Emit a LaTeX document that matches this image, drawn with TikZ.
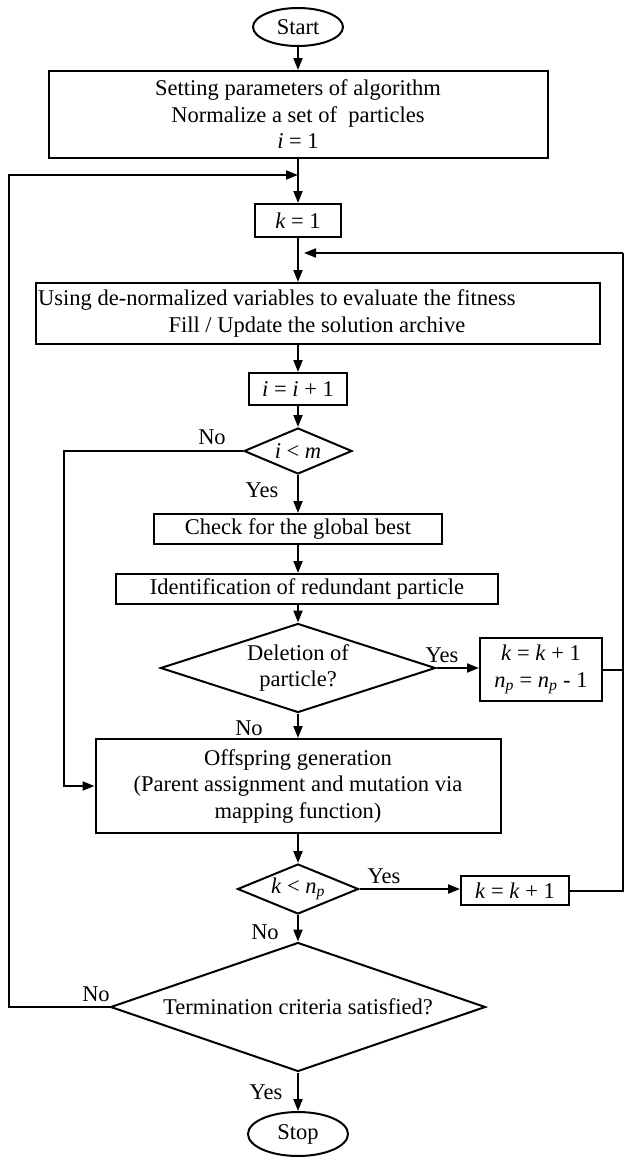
\documentclass[tikz,border=0pt]{standalone}
\usepackage{fontspec}
\setmainfont{Liberation Serif}
\usetikzlibrary{shapes.geometric,arrows.meta}
\newcommand\vi[1]{\textit{#1}}
\begin{document}
\begin{tikzpicture}[x=1pt,y=-1pt,
  every node/.style={font=\fontsize{22.5}{26.5}\selectfont},
  line/.style={line width=2pt},
  arr/.style={line width=2pt,-{Triangle[length=12pt,width=9pt]}},
  box/.style={draw,line width=2pt,rectangle,inner sep=0pt,align=center},
  oval/.style={draw,line width=2pt,ellipse,inner sep=0pt},
  dia/.style={draw,line width=2pt,diamond,inner sep=0pt,align=center},
  lbl/.style={inner sep=0pt}]
\useasboundingbox (0,0) rectangle (625,1157);
% nodes
\node[oval,minimum width=90pt,minimum height=38pt] (start) at (298,27) {Start};
\node[box,minimum width=499pt,minimum height=87pt] (b1) at (298,114.5)
  {Setting parameters of algorithm\\Normalize a set of\ \ particles\\\vi{i} = 1};
\node[box,minimum width=86pt,minimum height=33pt] (k1) at (298,220.5) {\vi{k} = 1};
\node[box,minimum width=564pt,minimum height=61pt] (use) at (318,313.5) {};
\node[lbl,anchor=west] (use1) at (38,300) {Using de-normalized variables to evaluate the fitness};
\node[lbl] (use2) at (317,327) {Fill / Update the solution archive};
\node[box,minimum width=98pt,minimum height=32pt] (ii) at (298,389) {\vi{i} = \vi{i} + 1};
\node[dia,shape aspect=2.35,minimum width=108pt,minimum height=46pt] (dm) at (298,451) {\vi{i} {\textless} \vi{m}};
\node[box,minimum width=288pt,minimum height=30pt] (chk) at (298,529) {Check for the global best};
\node[box,minimum width=382pt,minimum height=30pt] (idf) at (307,589) {Identification of redundant particle};
\node[dia,shape aspect=3.09,minimum width=275pt,minimum height=89pt] (del) at (298,668) {Deletion of\\particle?};
\node[box,minimum width=122pt,minimum height=63pt] (kn) at (541,669.5)
  {\vi{k} = \vi{k} + 1\\\vi{n}\textsubscript{\vi{p}} = \vi{n}\textsubscript{\vi{p}} - 1};
\node[box,minimum width=405pt,minimum height=94pt] (off) at (298,786)
  {Offspring generation\\(Parent assignment and mutation via\\mapping function)};
\node[dia,shape aspect=2.42,minimum width=121pt,minimum height=50pt] (kd) at (298,889) {\vi{k} {\textless} \vi{n}\textsubscript{\vi{p}}};
\node[box,minimum width=108pt,minimum height=29pt] (kk) at (515,890.5) {\raisebox{-3pt}{\vi{k} = \vi{k} + 1}};
\node[dia,shape aspect=2.9,minimum width=375pt,minimum height=129pt] (term) at (298,1007) {Termination criteria satisfied?};
\node[oval,minimum width=100pt,minimum height=44pt] (stop) at (298,1134) {Stop};
% coordinates
\coordinate (loopin) at (298,175);
\coordinate (retin) at (304,253);
\coordinate (rc) at (623,253);
\coordinate (lx) at (9,175);
\coordinate (nx) at (64,451);
% connectors
\draw[arr] (start) -- (b1);
\draw[line] (b1.south) -- (loopin);
\draw[arr] (loopin) -- (k1.north);
\draw[arr] (term.west) -- (lx |- term.west) -- (lx) -- (loopin);
\draw[arr] (k1.south) -- (k1.south |- use.north);
\draw[arr] (rc) -- (retin);
\draw[line] (kn.east) -- (rc |- kn.east);
\draw[line] (kk.east) -- (rc |- kk.east) -- (rc);
\draw[arr] (use.south -| ii.north) -- (ii.north);
\draw[arr] (ii) -- (dm);
\draw[arr] (dm.west) -- (nx) -- (nx |- off.west) -- (off.west);
\draw[arr] (dm) -- (chk);
\draw[arr] (chk.south) -- (chk.south |- idf.north);
\draw[arr] (idf.south -| del.north) -- (del.north);
\draw[arr] (del.east) -- (kn.west |- del.east);
\draw[arr] (del) -- (off);
\draw[arr] (off) -- (kd);
\draw[arr] (kd.east) -- (kd.east -| kk.west);
\draw[arr] (kd) -- (term);
\draw[arr] (term) -- (stop);
% labels
\node[lbl] (l1) at (212,437) {No};
\node[lbl] (l2) at (262,490) {Yes};
\node[lbl] (l3) at (442,655) {Yes};
\node[lbl] (l4) at (249,728) {No};
\node[lbl] (l5) at (384,876) {Yes};
\node[lbl] (l6) at (265,932) {No};
\node[lbl] (l7) at (96,994) {No};
\node[lbl] (l8) at (266,1092) {Yes};
\end{tikzpicture}
\end{document}
